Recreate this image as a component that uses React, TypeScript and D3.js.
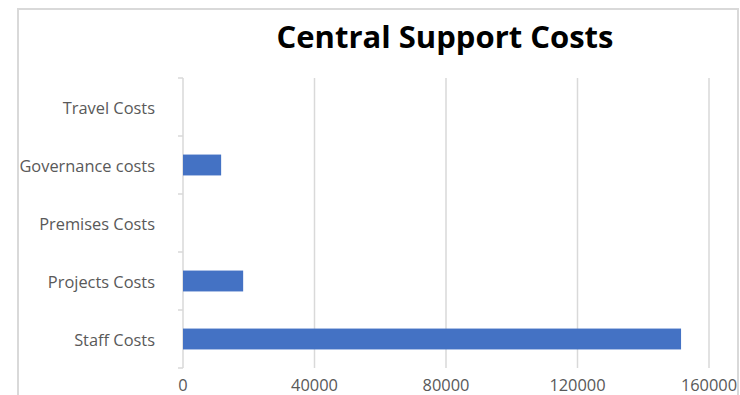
import React, { useEffect, useRef } from "react";
import * as d3 from "d3";

const categories = ["Staff Costs", "Projects Costs", "Premises Costs", "Governance costs", "Travel Costs"];
const values = [151500, 18300, 0, 11600, 0];
const xTicks = [0, 40000, 80000, 120000, 160000];
const title = "Central Support Costs";

export default function App() {
  const ref = useRef<SVGSVGElement>(null);
  useEffect(() => {
    const svg = d3.select(ref.current);
    svg.selectAll("*").remove();
    const W = 740, H = 395;
    const left = 183, right = 709, top = 78, bottom = 368;
    const font = "'Open Sans', 'Noto Sans', sans-serif";

    svg.append("rect").attr("width", W).attr("height", H).attr("fill", "#fff");
    // frame
    svg.append("rect").attr("x", 18).attr("y", 9).attr("width", 720).attr("height", 400)
      .attr("fill", "none").attr("stroke", "#d9d9d9").attr("stroke-width", 2);

    const x = d3.scaleLinear().domain([0, 160000]).range([left, right]);
    const y = d3.scaleBand().domain([...categories].reverse()).range([top, bottom]).paddingInner(0.64).paddingOuter(0.32);
    const band = d3.scaleBand().domain([...categories].reverse()).range([top, bottom]);

    // gridlines
    svg.append("g").selectAll("line").data(xTicks.slice(1)).join("line")
      .attr("x1", d => x(d)).attr("x2", d => x(d)).attr("y1", top).attr("y2", bottom)
      .attr("stroke", "#d9d9d9").attr("stroke-width", 1.5);

    // y axis line and ticks
    svg.append("line").attr("x1", left).attr("x2", left).attr("y1", top).attr("y2", bottom)
      .attr("stroke", "#d9d9d9").attr("stroke-width", 1.5);
    const bounds = [...categories.map(c => band(c) as number), bottom];
    svg.append("g").selectAll("line").data(bounds).join("line")
      .attr("x1", left - 5).attr("x2", left).attr("y1", d => d).attr("y2", d => d)
      .attr("stroke", "#d9d9d9").attr("stroke-width", 1.5);

    // bars
    svg.append("g").selectAll("rect").data(categories.map((c, i) => ({ c, v: values[i] })).filter(d => d.v > 0)).join("rect")
      .attr("x", x(0)).attr("y", d => y(d.c) as number)
      .attr("width", d => x(d.v) - x(0)).attr("height", y.bandwidth())
      .attr("fill", "#4472C4");

    // category labels
    svg.append("g").selectAll("text").data(categories).join("text")
      .attr("x", 155).attr("y", d => (band(d) as number) + band.bandwidth() / 2)
      .attr("text-anchor", "end").attr("dominant-baseline", "central")
      .attr("font-family", font).attr("font-size", 16.4).attr("fill", "#595959")
      .text(d => d);

    // x tick labels
    svg.append("g").selectAll("text").data(xTicks).join("text")
      .attr("x", d => x(d)).attr("y", 384)
      .attr("text-anchor", "middle").attr("dominant-baseline", "central")
      .attr("font-family", font).attr("font-size", 16.4).attr("fill", "#595959")
      .text(d => String(d));

    // title
    svg.append("text").attr("x", 445).attr("y", 36)
      .attr("text-anchor", "middle").attr("dominant-baseline", "central")
      .attr("font-family", font).attr("font-weight", "bold").attr("font-size", 31).attr("fill", "#000")
      .text(title);
  }, []);
  return <svg ref={ref} width={740} height={395} style={{ position: "absolute", left: 0, top: 0 }} />;
}
